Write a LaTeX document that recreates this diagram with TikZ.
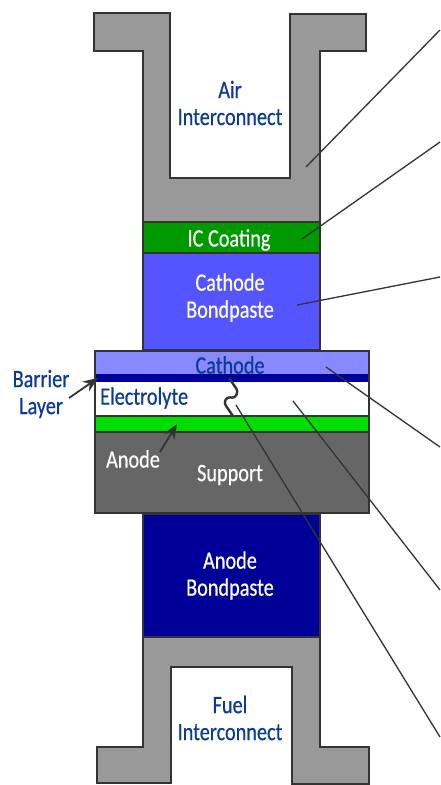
\documentclass[tikz,border=0pt]{standalone}
\usepackage{fontspec}
\setmainfont[FakeStretch=0.81,FakeBold=0.5]{Carlito}
\usetikzlibrary{arrows.meta}
\definecolor{outl}{HTML}{333333}
\definecolor{ink}{HTML}{0B3A96}
\definecolor{grayA}{HTML}{999999}
\definecolor{grayB}{HTML}{666666}
\definecolor{icg}{HTML}{009900}
\definecolor{anodeg}{HTML}{00DD00}
\definecolor{cathbp}{HTML}{5555FF}
\definecolor{cathl}{HTML}{8888FF}
\definecolor{navyb}{HTML}{000099}
\tikzset{
  part/.style={draw=outl,line width=2pt,line join=miter},
  lbl/.style={font=\fontsize{25}{27}\selectfont,align=center,inner sep=0pt,text=ink},
  lblw/.style={lbl,text=white},
  leader/.style={draw=outl,line width=1.3pt},
  pointer/.style={draw=outl,line width=1.8pt,-{Stealth[length=15pt,width=12pt]}}
}
\begin{document}
\begin{tikzpicture}[x=1pt,y=-1pt]
\useasboundingbox (0,0) rectangle (440,785);
% top interconnect
\draw[part,fill=grayA] (94,13) -- (170,13) -- (170,178) -- (290,178) -- (290,14) -- (366,14) -- (366,51) -- (320,51) -- (320,222) -- (143,222) -- (143,51) -- (94,51) -- cycle;
\draw[part,fill=icg] (143,222) rectangle (320,253);
\draw[part,fill=cathbp] (143,253) rectangle (320,350);
% cell
\fill[cathl] (95,351) rectangle (369,374);
\fill[navyb] (95,374) rectangle (369,382);
\fill[white] (95,382) rectangle (369,416);
\fill[anodeg] (95,416) rectangle (369,432);
\fill[grayB] (95,432) rectangle (369,513);
\draw[part] (95,416) -- (369,416);
\draw[part] (95,432) -- (369,432);
\draw[part] (95,351) rectangle (369,513);
% bottom
\draw[part,fill=navyb] (143,514) rectangle (320,637);
\draw[part,fill=grayA] (143,637) -- (320,637) -- (320,747) -- (369,747) -- (369,784) -- (292,784) -- (292,667) -- (171,667) -- (171,783) -- (97,783) -- (97,747) -- (143,747) -- cycle;
% labels
\node[lbl] (air) at (230,103) {Air\\Interconnect};
\node[lblw] (ic) at (229,240) {IC Coating};
\node[lblw] (cbp) at (230,297.5) {Cathode\\Bondpaste};
\node[lbl] (cath) at (230,365) {Cathode};
\node[lbl,anchor=west] (elec) at (100,398) {Electrolyte};
\node[lblw] (anode) at (133,459) {Anode};
\node[lblw] (supp) at (230,475) {Support};
\node[lblw] (abp) at (230,575.5) {Anode\\Bondpaste};
\node[lbl] (fuel) at (230,718) {Fuel\\Interconnect};
\node[lbl] (barrier) at (41,394) {Barrier\\Layer};
% leader anchors
\coordinate (l1a) at (306,167); \coordinate (l1b) at (440,30);
\coordinate (l2a) at (302,239); \coordinate (l2b) at (440,142);
\coordinate (l3a) at (297,305); \coordinate (l3b) at (440,277);
\coordinate (l4a) at (326,367); \coordinate (l4b) at (440,447);
\coordinate (l5a) at (293,401); \coordinate (l5b) at (440,590);
\coordinate (l6a) at (236,405); \coordinate (l6b) at (440,737);
\draw[leader] (l1a) -- (l1b);
\draw[leader] (l2a) -- (l2b);
\draw[leader] (l3a) -- (l3b);
\draw[leader] (l4a) -- (l4b);
\draw[leader] (l5a) -- (l5b);
\draw[leader] (l6a) -- (l6b);
% crack
\draw[draw=outl,line width=2.4pt,line join=round,rounded corners=3pt] (229,378) -- (238,391) -- (235,398) -- (227,397) -- (224,403) -- (233,416);
% pointers
\coordinate (bt) at (98,378);
\coordinate (at) at (177,424);
\draw[pointer] (69,398) -- (bt);
\draw[pointer] (160,452) -- (at);
\end{tikzpicture}
\end{document}
